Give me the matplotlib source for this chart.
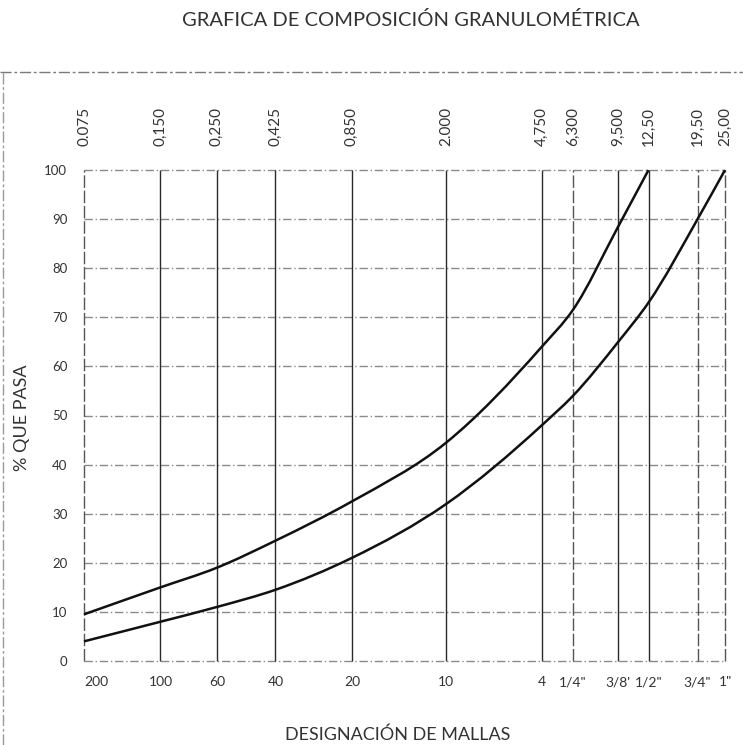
import numpy as np
import matplotlib
matplotlib.use("Agg")
import matplotlib.pyplot as plt
from matplotlib.path import Path
from matplotlib.patches import PathPatch
from matplotlib.lines import Line2D
from matplotlib.ticker import NullLocator, FixedLocator

plt.rcParams['font.family'] = ['Lato', 'DejaVu Sans']

# ---- data ----
sieve_mm = [0.075, 0.150, 0.250, 0.425, 0.850, 2.000, 4.750, 6.300, 9.500, 12.50, 19.50, 25.00]
top_labels = ["0.075", "0,150", "0,250", "0,425", "0,850", "2.000", "4,750", "6,300",
              "9,500", "12,50", "19,50", "25,00"]
bottom_labels = ["200", "100", "60", "40", "20", "10", "4", '1/4"', "3/8'", '1/2"', '3/4"', '1"']
# % passing, upper limit curve (finer) reaches 100 % on the 1/2" sieve
upper_pass = [9.5, 15, 19, 24.5, 32.5, 44.5, 64, 71.5, 88.5, 100]
# % passing, lower limit curve (coarser)
lower_pass = [4, 8, 11, 14.5, 21, 32, 48, 54, 65, 73, 90, 100]
y_ticks = [0, 10, 20, 30, 40, 50, 60, 70, 80, 90, 100]

title = "GRAFICA DE COMPOSICIÓN GRANULOMÉTRICA"
xlabel = "DESIGNACIÓN DE MALLAS"
ylabel = "% QUE PASA"

W, H = 743, 745
fig = plt.figure(figsize=(W / 100, H / 100), dpi=100)
fig.patch.set_facecolor('white')

left, right, top, bottom = 84, 725, 170, 661
ax = fig.add_axes([left / W, 1 - bottom / H, (right - left) / W, (bottom - top) / H])
ax.set_xscale('log')
ax.set_xlim(sieve_mm[0], sieve_mm[-1])
ax.set_ylim(0, 100)
for s in ax.spines.values():
    s.set_visible(False)

# horizontal dash-dot grid lines
ax.hlines(y_ticks, sieve_mm[0], sieve_mm[-1], colors='#8a8a8a', linestyles=(0, (6, 2, 1, 2)),
          linewidth=1.0, clip_on=False, zorder=1)
# vertical sieve lines (some are printed broken in the sheet)
dashed_idx = {0, 7, 10, 11}
for i, s in enumerate(sieve_mm):
    if i in dashed_idx:
        ax.vlines([s], 0, 100, colors='#555555', linewidth=1.0, clip_on=False, zorder=2,
                  linestyles=(0, (9, 2)))
    else:
        ax.vlines([s], 0, 100, colors='#2a2a2a', linewidth=1.0, clip_on=False, zorder=2)


def smooth_path(xs, ys):
    """Cubic Bezier through the points, tangents from 3-point differences in log-x space."""
    lx = np.log10(np.asarray(xs, float))
    yy = np.asarray(ys, float)
    n = len(lx)
    h = np.diff(lx)
    d = np.diff(yy) / h
    m = np.empty(n)
    m[0], m[-1] = d[0], d[-1]
    for k in range(1, n - 1):
        m[k] = (h[k] * d[k - 1] + h[k - 1] * d[k]) / (h[k - 1] + h[k])
    verts = [(xs[0], ys[0])]
    codes = [Path.MOVETO]
    for k in range(n - 1):
        c1 = (lx[k] + h[k] / 3, yy[k] + m[k] * h[k] / 3)
        c2 = (lx[k + 1] - h[k] / 3, yy[k + 1] - m[k + 1] * h[k] / 3)
        p2 = (lx[k + 1], yy[k + 1])
        for c in (c1, c2, p2):
            verts.append((10 ** c[0], c[1]))
        codes += [Path.CURVE4] * 3
    return Path(verts, codes)


for series in (upper_pass, lower_pass):
    xs = sieve_mm[:len(series)]
    patch = PathPatch(smooth_path(xs, series), facecolor='none', edgecolor='#111111',
                      linewidth=1.8, zorder=3, clip_on=False)
    ax.add_patch(patch)

# y ticks
ax.set_yticks(y_ticks)
ax.set_yticklabels([str(v) for v in y_ticks], fontsize=9.5, color='#333333')
ax.tick_params(axis='y', length=0, pad=12)

# bottom x ticks
ax.xaxis.set_minor_locator(NullLocator())
ax.xaxis.set_major_locator(FixedLocator(sieve_mm))
ax.set_xticklabels(bottom_labels, fontsize=10, color='#333333')
ax.tick_params(axis='x', length=0, pad=11)
ax.get_xticklabels()[0].set_horizontalalignment('left')

# top x ticks (opening in mm)
sec = ax.secondary_xaxis('top')
sec.xaxis.set_minor_locator(NullLocator())
sec.set_xticks(sieve_mm)
sec.set_xticklabels(top_labels, fontsize=11, rotation=90, color='#333333')
sec.tick_params(axis='x', length=0, pad=17)
for s in sec.spines.values():
    s.set_visible(False)

fig.text(411 / W, 1 - 20 / H, title, ha='center', va='center', fontsize=14.5, color='#333333')
fig.text(398 / W, 1 - 735 / H, xlabel, ha='center', va='center', fontsize=13, color='#333333')
fig.text(22 / W, 1 - 418 / H, ylabel, ha='center', va='center', rotation=90, fontsize=13,
         color='#333333')

# frame lines of the scanned sheet
fig.add_artist(Line2D([0, 1], [1 - 72 / H, 1 - 72 / H], transform=fig.transFigure,
                      color='#7a7a7a', linewidth=1.0, linestyle=(0, (8, 2, 2, 2))))
fig.add_artist(Line2D([2.5 / W, 2.5 / W], [0, 1 - 72 / H], transform=fig.transFigure,
                      color='#9a9a9a', linewidth=1.0, linestyle=(0, (8, 2, 2, 2))))

fig.savefig('out.png', dpi=100, facecolor='white')
